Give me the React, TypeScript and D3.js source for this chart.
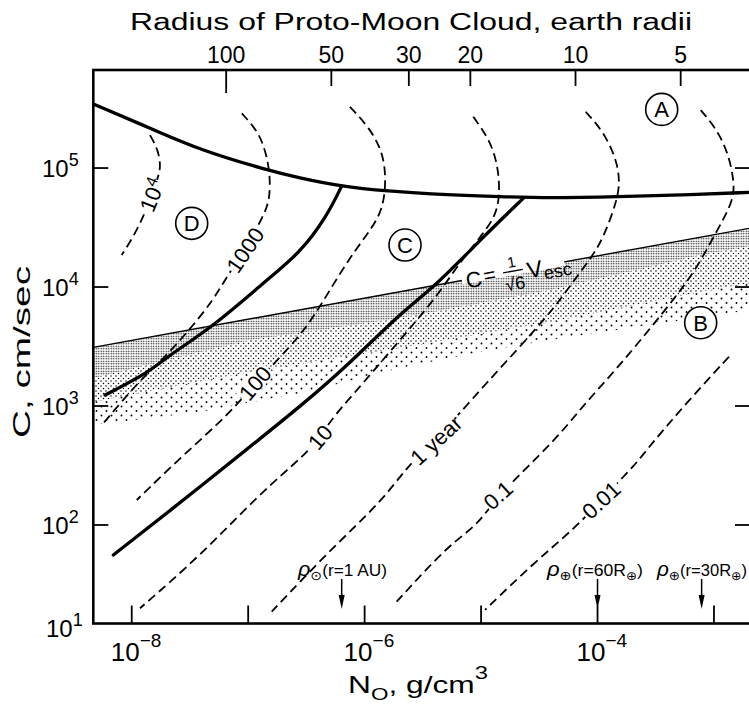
import React from 'react';
import * as d3 from 'd3';

// Every point is [log10 N0 (g/cm^3), log10 C (cm/sec)]
type P = [number, number];

const X_DOMAIN_LOG: [number, number] = [-8.33, -2.682];
const Y_DOMAIN_LOG: [number, number] = [1.172, 5.824];

const xTickExps = [-8, -7, -6, -5, -4, -3];
const xTickLabelExps = [-8, -6, -4];
const yTickExps = [5, 4, 3, 2];
const radiusTicks = [100, 50, 30, 20, 10, 5];
const LOG_N0_AT_10_RADII = -4.189; // density whose cloud radius is 10 earth radii

// Region boundaries (thick solid)
const boundaryA: P[] = [
  [-8.33, 5.538], [-7.843, 5.336], [-7.414, 5.151], [-6.838, 4.983], [-6.555, 4.916],
  [-6.211, 4.849], [-5.825, 4.807], [-5.267, 4.773], [-4.838, 4.759], [-4.408, 4.748],
  [-3.816, 4.759], [-3.292, 4.773], [-2.682, 4.796],
];
const boundaryDC: P[] = [
  [-8.229, 3.092], [-7.843, 3.288], [-7.699, 3.414], [-7.302, 3.666], [-6.841, 4.059],
  [-6.555, 4.286], [-6.326, 4.591], [-6.197, 4.849],
];
const boundaryCB: P[] = [
  [-8.158, 1.748], [-7.699, 2.098], [-6.984, 2.658], [-6.555, 2.994], [-6.126, 3.359],
  [-5.696, 3.779], [-5.381, 4.017], [-4.981, 4.423], [-4.638, 4.745],
];
// C = Vesc / sqrt(6)
const escLine: P[] = [[-8.33, 3.493], [-2.682, 4.496]];

// Stippled zone below the escape line
const stippleDenseEdge: P[] = [
  [-8.33, 3.235], [-6.984, 3.555], [-5.696, 3.739], [-4.408, 3.975], [-3.12, 4.269], [-2.682, 4.345],
];
const stippleMidEdge: P[] = [
  [-8.33, 3.034], [-6.984, 3.286], [-5.696, 3.487], [-4.408, 3.706], [-3.12, 3.958], [-2.682, 4.034],
];
const stippleOuterEdge: P[] = [
  [-8.33, 2.84], [-7.414, 2.95], [-6.503, 3.118], [-5.696, 3.319], [-5.009, 3.454],
  [-4.408, 3.555], [-3.55, 3.681], [-2.682, 3.807],
];

// Time-scale contours (dashed)
const contour10k: P[] = [
  [-7.843, 5.277], [-7.772, 5.151], [-7.751, 5.011], [-7.772, 4.927], [-7.826, 4.773],
  [-7.9, 4.591], [-7.986, 4.423], [-8.086, 4.269],
];
const contour1000: P[] = [
  [-7.055, 5.46], [-6.941, 5.336], [-6.87, 5.208], [-6.812, 4.983], [-6.812, 4.731],
  [-6.873, 4.591], [-7.027, 4.311], [-7.184, 4.087], [-7.299, 3.891], [-7.528, 3.611],
  [-7.757, 3.37], [-7.929, 3.218], [-8.244, 2.855],
];
const contour100: P[] = [
  [-6.126, 5.515], [-5.954, 5.334], [-5.84, 5.124], [-5.816, 4.899], [-5.84, 4.675],
  [-5.925, 4.507], [-6.126, 4.255], [-6.383, 3.834], [-6.555, 3.582], [-6.941, 3.193],
  [-7.156, 2.939], [-7.585, 2.563], [-7.957, 2.21],
];
const contour10: P[] = [
  [-5.067, 5.431], [-4.923, 5.235], [-4.852, 5.011], [-4.838, 4.759], [-4.88, 4.591],
  [-4.981, 4.451], [-5.209, 4.171], [-5.381, 3.918], [-5.696, 3.555], [-6.04, 3.162],
  [-6.269, 2.91], [-6.383, 2.739], [-6.497, 2.603], [-6.898, 2.266], [-7.414, 1.739], [-7.929, 1.3],
];
const contour1yr: P[] = [
  [-4.102, 5.473], [-3.959, 5.319], [-3.844, 5.095], [-3.807, 4.899], [-3.83, 4.731],
  [-3.945, 4.423], [-4.048, 4.252], [-4.245, 4.0], [-4.408, 3.773], [-4.984, 3.162],
  [-5.387, 2.714], [-5.639, 2.49], [-5.84, 2.21], [-6.297, 1.79], [-6.798, 1.271],
];
const contour01: P[] = [
  [-3.114, 5.487], [-2.983, 5.336], [-2.88, 5.134], [-2.828, 4.899], [-2.828, 4.731],
  [-2.985, 4.454], [-3.157, 4.143], [-3.329, 3.918], [-3.558, 3.639], [-3.844, 3.303],
  [-4.133, 2.994], [-4.359, 2.714], [-4.855, 2.252], [-5.038, 1.986], [-5.267, 1.846], [-5.725, 1.355],
];
const contour001: P[] = [
  [-2.871, 3.414], [-3.215, 3.05], [-3.558, 2.658], [-3.664, 2.518], [-3.97, 2.21],
  [-4.179, 1.986], [-4.552, 1.678], [-4.966, 1.286],
];
const contours = [contour10k, contour1000, contour100, contour10, contour1yr, contour01, contour001];

const contourLabels: { text: string; sup?: string; at: P; angle: number; w: number }[] = [
  { text: '10', sup: '4', at: [-7.826, 4.773], angle: -68, w: 32 },
  { text: '1000', at: [-7.027, 4.311], angle: -56, w: 50 },
  { text: '100', at: [-6.941, 3.193], angle: -50, w: 40 },
  { text: '10', at: [-6.383, 2.739], angle: -50, w: 28 },
  { text: '1 year', at: [-5.387, 2.714], angle: -43, w: 66 },
  { text: '0.1', at: [-4.855, 2.252], angle: -42, w: 32 },
  { text: '0.01', at: [-3.97, 2.21], angle: -43, w: 46 },
];

const regionLabels: { text: string; at: P }[] = [
  { text: 'A', at: [-3.449, 5.493] },
  { text: 'D', at: [-7.485, 4.535] },
  { text: 'C', at: [-5.653, 4.353] },
  { text: 'B', at: [-3.114, 3.7] },
];

const densityMarks: { logN: number; sym: string; note: string; textX: number; width: number }[] = [
  { logN: -6.197, sym: '\u2299', note: '(r=1 AU)', textX: 298, width: 89 },
  { logN: -4.0, sym: '\u2295', note: '(r=60R', textX: 547, width: 96 },
  { logN: -3.106, sym: '\u2295', note: '(r=30R', textX: 657, width: 90 },
];

const X0 = 93.3, X1 = 751, Y0 = 623.5, Y1 = 70;
const FONT = '"Liberation Sans", "DejaVu Sans", sans-serif';

export default function App() {
  const sx = d3.scaleLog().domain(X_DOMAIN_LOG.map((e) => 10 ** e)).range([X0, X1]);
  const sy = d3.scaleLog().domain(Y_DOMAIN_LOG.map((e) => 10 ** e)).range([Y0, Y1]);
  const px = (p: P): [number, number] => [sx(10 ** p[0]), sy(10 ** p[1])];
  const smooth = d3.line<P>().x((p) => px(p)[0]).y((p) => px(p)[1]).curve(d3.curveBasis);
  const straight = d3.line<P>().x((p) => px(p)[0]).y((p) => px(p)[1]);
  const band = (top: P[], bottom: P[]) => (straight([...top, ...bottom.slice().reverse()]) || '') + 'Z';

  const e0 = px(escLine[0]);
  const e1 = px(escLine[1]);
  const escAngle = (Math.atan2(e1[1] - e0[1], e1[0] - e0[0]) * 180) / Math.PI;
  const fx = 467;
  const fy = e0[1] + ((fx - e0[0]) * (e1[1] - e0[1])) / (e1[0] - e0[0]);

  return (
    <svg width={749} height={704} style={{ position: 'absolute', left: 0, top: 0, background: '#fff' }} fontFamily={FONT}>
      <defs>
        <clipPath id="plot"><rect x={X0} y={Y1} width={X1 - X0} height={Y0 - Y1} /></clipPath>
        <pattern id="dense" width={2.5} height={2.5} patternUnits="userSpaceOnUse">
          <circle cx={1.25} cy={1.25} r={0.72} fill="#000" />
        </pattern>
        <pattern id="mid" width={5} height={5} patternUnits="userSpaceOnUse">
          <circle cx={1} cy={1} r={0.75} fill="#000" />
          <circle cx={3.5} cy={3.5} r={0.75} fill="#000" />
        </pattern>
        <pattern id="sparse" width={10} height={9} patternUnits="userSpaceOnUse">
          <circle cx={1.5} cy={1.5} r={0.95} fill="#000" />
          <circle cx={6.5} cy={6} r={0.95} fill="#000" />
        </pattern>
      </defs>

      {/* title */}
      <text x={130} y={30} fontSize={23} textLength={562} lengthAdjust="spacingAndGlyphs">Radius of Proto-Moon Cloud, earth radii</text>

      <g clipPath="url(#plot)">
        <path d={band(escLine, stippleDenseEdge)} fill="url(#dense)" />
        <path d={band(stippleDenseEdge, stippleMidEdge)} fill="url(#mid)" />
        <path d={band(stippleMidEdge, stippleOuterEdge)} fill="url(#sparse)" />
        <path d={straight(escLine) || ''} fill="none" stroke="#000" strokeWidth={1.4} />
        {contours.map((c, i) => (
          <path key={i} d={smooth(c) || ''} fill="none" stroke="#000" strokeWidth={1.8} strokeDasharray="9 5" />
        ))}
        {[boundaryA, boundaryDC, boundaryCB].map((c, i) => (
          <path key={i} d={smooth(c) || ''} fill="none" stroke="#000" strokeWidth={3.3} strokeLinecap="round" />
        ))}
      </g>

      {/* contour labels */}
      {contourLabels.map((l, i) => {
        const [cx, cy] = px(l.at);
        return (
          <g key={i} transform={`translate(${cx},${cy}) rotate(${l.angle})`}>
            <rect x={-l.w / 2} y={-9} width={l.w} height={18} fill="#fff" />
            <text textAnchor="middle" y={8} fontSize={22}>
              {l.text}
              {l.sup && <tspan dy={-8} fontSize={16}>{l.sup}</tspan>}
            </text>
          </g>
        );
      })}

      {/* escape-velocity formula */}
      <g transform={`translate(${fx},${fy + 7}) rotate(${escAngle})`}>
        <rect x={-4} y={-11} width={104} height={8} fill="#fff" />
        <text x={0} y={2} fontSize={22}>C</text>
        <text x={18} y={0} fontSize={21}>=</text>
        <text x={48} y={-11} fontSize={15} textAnchor="middle">1</text>
        <line x1={38} x2={58} y1={-7} y2={-7} stroke="#000" strokeWidth={1.3} />
        <text x={48} y={12} fontSize={18} textAnchor="middle">{'\u221A6'}</text>
        <text x={62} y={3} fontSize={23}>V</text>
        <text x={78} y={7} fontSize={18}>esc</text>
      </g>

      {/* region labels */}
      {regionLabels.map((r) => {
        const [cx, cy] = px(r.at);
        return (
          <g key={r.text}>
            <circle cx={cx} cy={cy} r={16} fill="#fff" stroke="#000" strokeWidth={1.6} />
            <text x={cx} y={cy + 8} textAnchor="middle" fontSize={22}>{r.text}</text>
          </g>
        );
      })}

      {/* density markers */}
      {densityMarks.map((m, i) => {
        const ax = sx(10 ** m.logN);
        const earth = m.note.endsWith('R');
        return (
          <g key={i}>
            <text x={m.textX} y={576} fontSize={16} textLength={m.width} lengthAdjust="spacingAndGlyphs">
              <tspan fontStyle="italic" fontSize={20}>{'\u03C1'}</tspan>
              <tspan dy={4} fontSize={13}>{m.sym}</tspan>
              <tspan dy={-4}>{m.note}</tspan>
              {earth && <tspan dy={4} fontSize={12}>{'\u2295'}</tspan>}
              {earth && <tspan dy={-4}>)</tspan>}
            </text>
            <line x1={ax} x2={ax} y1={579} y2={598} stroke="#000" strokeWidth={1.5} />
            <path d={`M${ax - 3},${595} L${ax + 3},${595} L${ax},${609} Z`} fill="#000" />
          </g>
        );
      })}

      {/* frame */}
      <rect x={X0} y={Y1} width={X1 - X0} height={Y0 - Y1} fill="none" stroke="#000" strokeWidth={2.6} />

      {/* bottom ticks */}
      {xTickExps.map((e) => (
        <line key={e} x1={sx(10 ** e)} x2={sx(10 ** e)} y1={Y0} y2={Y0 - 18} stroke="#000" strokeWidth={1.8} />
      ))}
      {xTickLabelExps.map((e) => (
        <text key={e} x={sx(10 ** e) - 21} y={661} fontSize={26}>
          10<tspan dy={-14} fontSize={19}>{'\u2212' + Math.abs(e)}</tspan>
        </text>
      ))}
      <text x={348} y={693} fontSize={24} textLength={140} lengthAdjust="spacingAndGlyphs">
        N<tspan dy={7} fontSize={17}>O</tspan><tspan dy={-7}>, g/cm</tspan><tspan dy={-14} fontSize={18}>3</tspan>
      </text>

      {/* left / right ticks */}
      {yTickExps.map((e) => (
        <g key={e}>
          <line x1={X0} x2={X0 + 15} y1={sy(10 ** e)} y2={sy(10 ** e)} stroke="#000" strokeWidth={1.8} />
          <line x1={X1} x2={X1 - 16} y1={sy(10 ** e)} y2={sy(10 ** e)} stroke="#000" strokeWidth={1.8} />
          <text x={42} y={sy(10 ** e) + 9} fontSize={24}>
            10<tspan dy={-11} fontSize={18}>{e}</tspan>
          </text>
        </g>
      ))}
      <text x={46} y={637} fontSize={24}>
        10<tspan dy={-11} fontSize={18}>1</tspan>
      </text>
      <text transform="translate(30,352) rotate(-90)" textAnchor="middle" fontSize={24} textLength={172} lengthAdjust="spacingAndGlyphs">C, cm/sec</text>

      {/* top radius axis */}
      {radiusTicks.map((r) => {
        const tx = sx(10 ** (LOG_N0_AT_10_RADII - 3 * Math.log10(r / 10)));
        return (
          <g key={r}>
            <line x1={tx} x2={tx} y1={Y1} y2={Y1 + (r === 100 ? 23 : 16)} stroke="#000" strokeWidth={1.8} />
            <text x={tx} y={63} textAnchor="middle" fontSize={23}>{r}</text>
          </g>
        );
      })}
    </svg>
  );
}
